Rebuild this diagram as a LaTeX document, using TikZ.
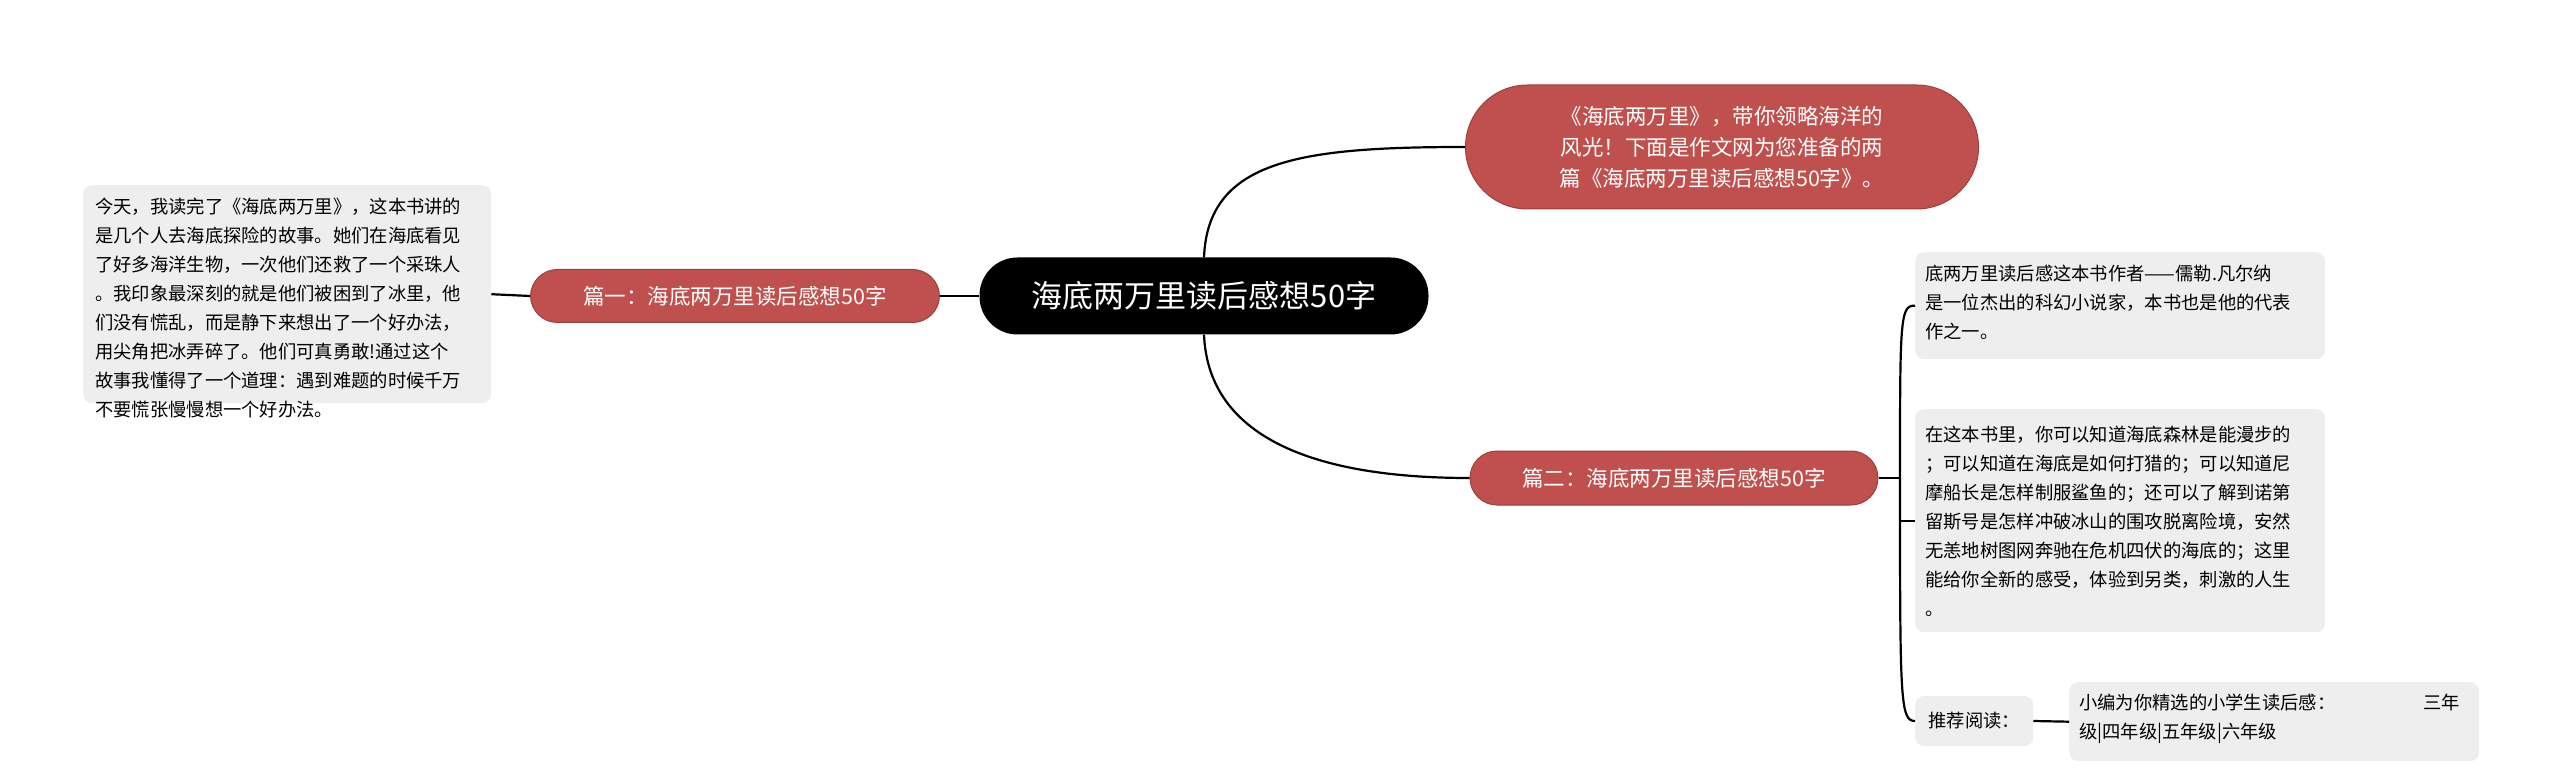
\documentclass[tikz,border=0pt]{standalone}
\usepackage{fontspec}
\setmainfont{Noto Sans CJK SC}
\usetikzlibrary{positioning}
\definecolor{topicred}{RGB}{192,80,77}
\definecolor{leafgray}{RGB}{238,238,238}
\tikzset{
  rootnode/.style={rectangle,rounded corners=38pt,fill=black,text=white,font=\fontsize{31}{36}\selectfont,minimum width=449pt,minimum height=77pt,inner sep=0pt},
  topicnode/.style={rectangle,rounded corners=27pt,fill=topicred,draw=topicred!80!black,line width=1pt,text=white,font=\fontsize{21.5}{31}\selectfont,inner sep=0pt,align=center},
  leafnode/.style={rectangle,rounded corners=9pt,fill=leafgray,text=black,font=\fontsize{18.3}{29}\selectfont,inner sep=0pt,align=left,anchor=north west},
  link/.style={line width=2.2pt,black},
}
\begin{document}
\begin{tikzpicture}[x=1pt,y=-1pt]
  \useasboundingbox (0,0) rectangle (2560,775);

  \node[rootnode] (root) at (1204,296) {海底两万里读后感想50字};

  \node[topicnode,minimum width=513pt,minimum height=124pt,rounded corners=62pt] (intro) at (1722,147)
    {《海底两万里》，带你领略海洋的\\风光！下面是作文网为您准备的两\\篇《海底两万里读后感想50字》。};
  \node[topicnode,minimum width=409pt,minimum height=53pt] (part1) at (735,296) {篇一：海底两万里读后感想50字};
  \node[topicnode,minimum width=408pt,minimum height=54pt] (part2) at (1674,478) {篇二：海底两万里读后感想50字};

  \node[leafnode,minimum width=408pt,minimum height=218pt] (story) at (83,185) {};
  \node[anchor=north west,align=left,font=\fontsize{18.3}{29}\selectfont,inner sep=0pt] at (story.north west) [xshift=12pt,yshift=-13pt]
    {今天，我读完了《海底两万里》，这本书讲的\\是几个人去海底探险的故事。她们在海底看见\\了好多海洋生物，一次他们还救了一个采珠人\\。我印象最深刻的就是他们被困到了冰里，他\\们没有慌乱，而是静下来想出了一个好办法，\\用尖角把冰弄碎了。他们可真勇敢!通过这个\\故事我懂得了一个道理：遇到难题的时候千万\\不要慌张慢慢想一个好办法。};

  \node[leafnode,minimum width=410pt,minimum height=107pt] (author) at (1915,252) {};
  \node[anchor=north west,align=left,font=\fontsize{18.3}{29}\selectfont,inner sep=0pt] at (author.north west) [xshift=10pt,yshift=-13pt]
    {底两万里读后感这本书作者——儒勒.凡尔纳\\是一位杰出的科幻小说家，本书也是他的代表\\作之一。};
  \node[leafnode,minimum width=410pt,minimum height=223pt] (content) at (1915,409) {};
  \node[anchor=north west,align=left,font=\fontsize{18.3}{29}\selectfont,inner sep=0pt] at (content.north west) [xshift=10pt,yshift=-17pt]
    {在这本书里，你可以知道海底森林是能漫步的\\；可以知道在海底是如何打猎的；可以知道尼\\摩船长是怎样制服鲨鱼的；还可以了解到诺第\\留斯号是怎样冲破冰山的围攻脱离险境，安然\\无恙地树图网奔驰在危机四伏的海底的；这里\\能给你全新的感受，体验到另类，刺激的人生\\。};
  \node[leafnode,minimum width=118pt,minimum height=50pt,anchor=west,align=center] (recommend) at (1915,721) {推荐阅读：};
  \node[leafnode,minimum width=410pt,minimum height=79pt] (grades) at (2069,682) {};
  \node[anchor=north west,align=left,font=\fontsize{18.3}{29}\selectfont,inner sep=0pt] at (grades.north west) [xshift=10pt,yshift=-12pt]
    {小编为你精选的小学生读后感：\hspace{88pt}三年\\级|四年级|五年级|六年级};

  % connectors
  \draw[link] (root.north) ++(0,0) coordinate (rtop) .. controls (1208,160) and (1300,147) .. (intro.west);
  \draw[link] (root.south) ++(0,0) coordinate (rbot) .. controls (1208,430) and (1300,478) .. (part2.west);
  \draw[link] (root.west) -- (part1.east);
  \draw[link] (part1.west) -- (story.east);
  \draw[link] (part2.east) -- (1900,478);
  \draw[link] (1900,478) .. controls (1900,320) and (1900,305) .. (author.west);
  \draw[link] (1900,478) -- (content.west -| 1900,0) -- (content.west);
  \draw[link] (1900,478) .. controls (1900,700) and (1900,721) .. (recommend.west);
  \draw[link] (recommend.east) -- (grades.west);
\end{tikzpicture}
\end{document}
